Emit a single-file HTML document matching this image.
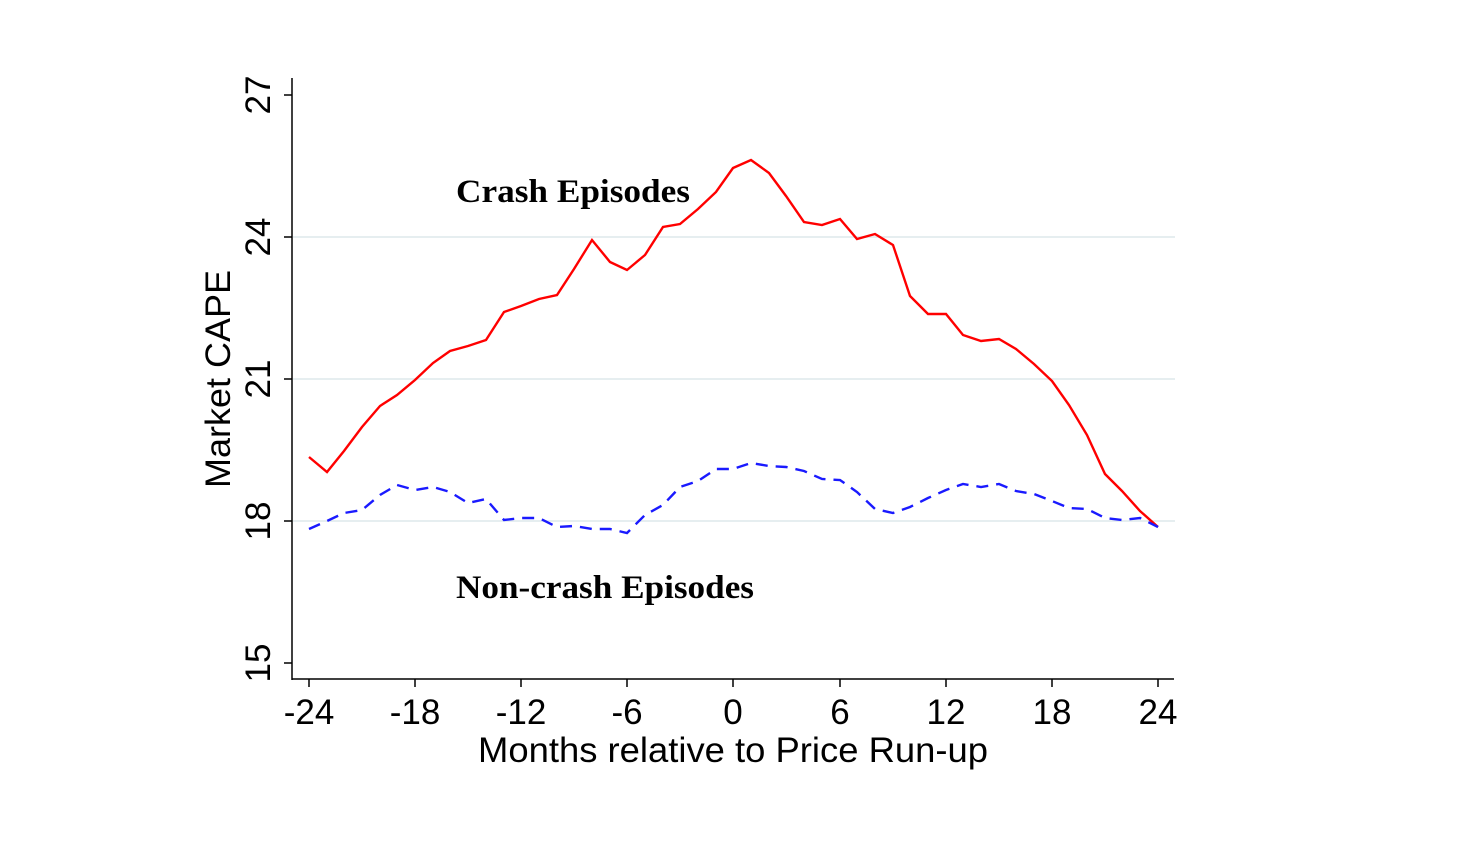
<!DOCTYPE html>
<html><head><style>body{margin:0;background:#fff}svg{display:block}</style></head><body>
<svg width="1471" height="864" xmlns="http://www.w3.org/2000/svg" font-family="Liberation Sans, sans-serif">
<rect width="1471" height="864" fill="#fff"/>
<g stroke="#e6eef0" stroke-width="2">
<line x1="293" y1="237" x2="1175" y2="237"/><line x1="293" y1="379" x2="1175" y2="379"/><line x1="293" y1="521" x2="1175" y2="521"/>
</g>
<g stroke="#000" stroke-width="1.5" fill="none">
<line x1="292" y1="78" x2="292" y2="680"/><line x1="292" y1="679" x2="1174" y2="679"/>
<line x1="284" y1="95" x2="292" y2="95"/><line x1="284" y1="237" x2="292" y2="237"/><line x1="284" y1="379" x2="292" y2="379"/><line x1="284" y1="521" x2="292" y2="521"/><line x1="284" y1="663" x2="292" y2="663"/>
<line x1="309" y1="679" x2="309" y2="687"/><line x1="415" y1="679" x2="415" y2="687"/><line x1="521" y1="679" x2="521" y2="687"/><line x1="627" y1="679" x2="627" y2="687"/><line x1="733" y1="679" x2="733" y2="687"/><line x1="840" y1="679" x2="840" y2="687"/><line x1="946" y1="679" x2="946" y2="687"/><line x1="1052" y1="679" x2="1052" y2="687"/><line x1="1158" y1="679" x2="1158" y2="687"/>
</g>
<g font-size="35" text-anchor="middle" fill="#000">
<text x="309" y="724">-24</text><text x="415" y="724">-18</text><text x="521" y="724">-12</text><text x="627" y="724">-6</text><text x="733" y="724">0</text><text x="840" y="724">6</text><text x="946" y="724">12</text><text x="1052" y="724">18</text><text x="1158" y="724">24</text>
<text x="733" y="762" textLength="510" lengthAdjust="spacingAndGlyphs">Months relative to Price Run-up</text>
<text transform="translate(270,95) rotate(-90)">27</text>
<text transform="translate(270,237) rotate(-90)">24</text>
<text transform="translate(270,379) rotate(-90)">21</text>
<text transform="translate(270,521) rotate(-90)">18</text>
<text transform="translate(270,663) rotate(-90)">15</text>
<text transform="translate(230,379) rotate(-90)" textLength="218" lengthAdjust="spacingAndGlyphs">Market CAPE</text>
</g>
<g font-family="Liberation Serif, serif" font-weight="bold" font-size="33" fill="#000">
<text x="456" y="202" textLength="234" lengthAdjust="spacingAndGlyphs">Crash Episodes</text>
<text x="456" y="598" textLength="298" lengthAdjust="spacingAndGlyphs">Non-crash Episodes</text>
</g>
<polyline fill="none" stroke="#ff0000" stroke-width="2.4" points="309,457 327,472 344,451 362,427 380,406 397,395 415,380 433,363 450,351 468,346 486,340 504,312 521,306 539,299 557,295 574,269 592,240 610,262 627,270 645,255 663,227 680,224 698,209 716,192 733,168 751,160 769,173 786,196 804,222 822,225 840,219 857,239 875,234 893,245 910,296 928,314 946,314 963,335 981,341 999,339 1016,349 1034,364 1052,381 1069,405 1087,435 1105,474 1122,491 1140,511 1158,527"/>
<polyline fill="none" stroke="#1a1aff" stroke-width="2.4" stroke-dasharray="12,8" points="309,529 327,521 344,513 362,510 380,495 397,485 415,490 433,487 450,492 468,503 486,499 504,520 521,518 539,518 557,527 574,526 592,529 610,529 627,533 645,515 663,505 680,487 698,481 716,469 733,469 751,463 769,466 786,467 804,471 822,479 840,480 857,492 875,509 893,513 910,507 928,498 946,490 963,484 981,487 999,484 1016,491 1034,494 1052,501 1069,508 1087,509 1105,518 1122,520 1140,518 1158,527"/>
</svg>
</body></html>
